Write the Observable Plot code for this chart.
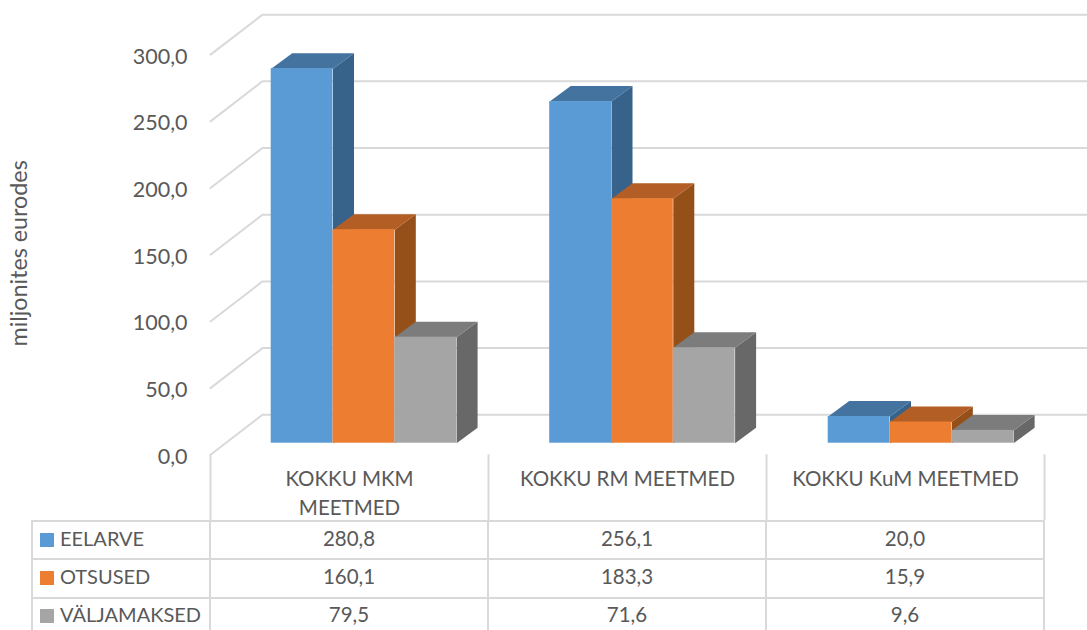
<!DOCTYPE html>
<html><head><meta charset="utf-8">
<script src="https://cdn.jsdelivr.net/npm/d3@7"></script>
<script src="https://cdn.jsdelivr.net/npm/@observablehq/plot@0.6"></script>
<style>
html,body{margin:0;padding:0;background:#fff;overflow:hidden;width:1087px;height:630px;}
#chart svg{display:block;}
table{position:absolute;left:31px;top:520px;border-collapse:collapse;table-layout:fixed;font-family:Lato,sans-serif;font-size:20.5px;color:#595959;}
td{border:2px solid #D9D9D9;padding:0 0 5px 0;text-align:center;box-sizing:border-box;height:38.3px;width:278px;}
td.h{width:178px;text-align:left;white-space:nowrap;padding-left:7px;font-size:20px;}
td.h i{display:inline-block;width:14px;height:14px;margin-right:6px;vertical-align:-1px;}
</style></head><body>
<div id="chart"></div>
<script>
const categories = ["KOKKU MKM\nMEETMED", "KOKKU RM MEETMED", "KOKKU KuM MEETMED"];
const seriesNames = ["EELARVE", "OTSUSED", "VÄLJAMAKSED"];
const eelarve = [280.8, 256.1, 20.0];
const otsused = [160.1, 183.3, 15.9];
const valjamaksed = [79.5, 71.6, 9.6];
const ticks = [0, 50, 100, 150, 200, 250, 300];
const frontColors = ["#5B9BD5", "#ED7D31", "#A5A5A5"];
const topColors = ["#44739F", "#B25E25", "#7C7C7C"];
const sideColors = ["#376289", "#955019", "#686868"];

const values = [eelarve, otsused, valjamaksed];
const fmt = v => v.toFixed(1).replace(".", ",");

// 3-D projection expressed in scale units
const pxX = 278, pxY = 1.334;
const wallDX = 52 / pxX, wallDY = 30;        // depth of the floor
const barDX = 21 / pxX, barDY = 15.5 / pxY;  // depth of a bar
const inset = 60.7 / pxX, barW = 61.8 / pxX, floorY = 8.7, groupStep = 278.5 / pxX;

const grid = ticks.flatMap(t => [
  {t, x: 0, y: t},
  {t, x: wallDX, y: t + wallDY},
  {t, x: 877 / pxX, y: t + wallDY}
]);

const bars = [], faces = [];
categories.forEach((c, ci) => values.forEach((vals, si) => {
  const x1 = ci * groupStep + inset + si * barW, x2 = x1 + barW, v = vals[ci] + floorY, id = ci * 3 + si;
  faces.push(
    ...[[x2, floorY], [x2 + barDX, floorY + barDY], [x2 + barDX, v + barDY], [x2, v]]
      .map(([x, y]) => ({x, y, id: `s${id}`, order: id, fill: sideColors[si]})),
    ...[[x1, v], [x1 + barDX, v + barDY], [x2 + barDX, v + barDY], [x2, v]]
      .map(([x, y]) => ({x, y, id: `t${id}`, order: id, fill: topColors[si]}))
  );
  bars.push({x1, x2, y1: floorY, y2: v, fill: frontColors[si], id});
}));

const barMarks = d3.range(9).flatMap(id => [
  Plot.line(faces.filter(d => d.order === id), {x: "x", y: "y", z: "id", fill: "fill", stroke: "none", curve: "linear"}),
  Plot.rectY(bars.filter(d => d.id === id), {x1: "x1", x2: "x2", y1: "y1", y2: "y2", fill: "fill", inset: 0})
]);

const font = "Lato, sans-serif";
const chart = Plot.plot({
  width: 1087, height: 520, margin: 0,
  x: {domain: [-210 / pxX, 877 / pxX], range: [0, 1087], axis: null},
  y: {domain: [-49.25, 340.6], range: [520, 0], axis: null},
  style: {fontFamily: font, background: "transparent"},
  marks: [
    Plot.line(grid, {x: "x", y: "y", z: "t", stroke: "#D9D9D9", strokeWidth: 2}),
    ...barMarks,
    Plot.ruleX(d3.range(4), {y1: 0, y2: -49.25, stroke: "#D9D9D9", strokeWidth: 2}),
    Plot.text(ticks, {x: -23 / pxX, y: d => d - 1.5, text: fmt, textAnchor: "end", fontSize: 21.5, fill: "#595959"}),
    Plot.text(categories, {x: (d, i) => i + 0.5, y: -8, text: d => d, lineAnchor: "top", lineHeight: 1.42, fontSize: 20.5, fill: "#595959"}),
    Plot.text(["miljonites eurodes"], {x: -191 / pxX, y: 151, text: d => d, rotate: -90, fontSize: 23.3, fill: "#595959"})
  ]
});
document.getElementById("chart").append(chart);

const table = document.createElement("table");
seriesNames.forEach((name, si) => {
  const tr = table.insertRow();
  const h = tr.insertCell(); h.className = "h";
  const key = document.createElement("i"); key.style.background = frontColors[si];
  h.append(key, name);
  values[si].forEach(v => { tr.insertCell().textContent = fmt(v); });
});
document.body.append(table);
</script>
</body></html>
